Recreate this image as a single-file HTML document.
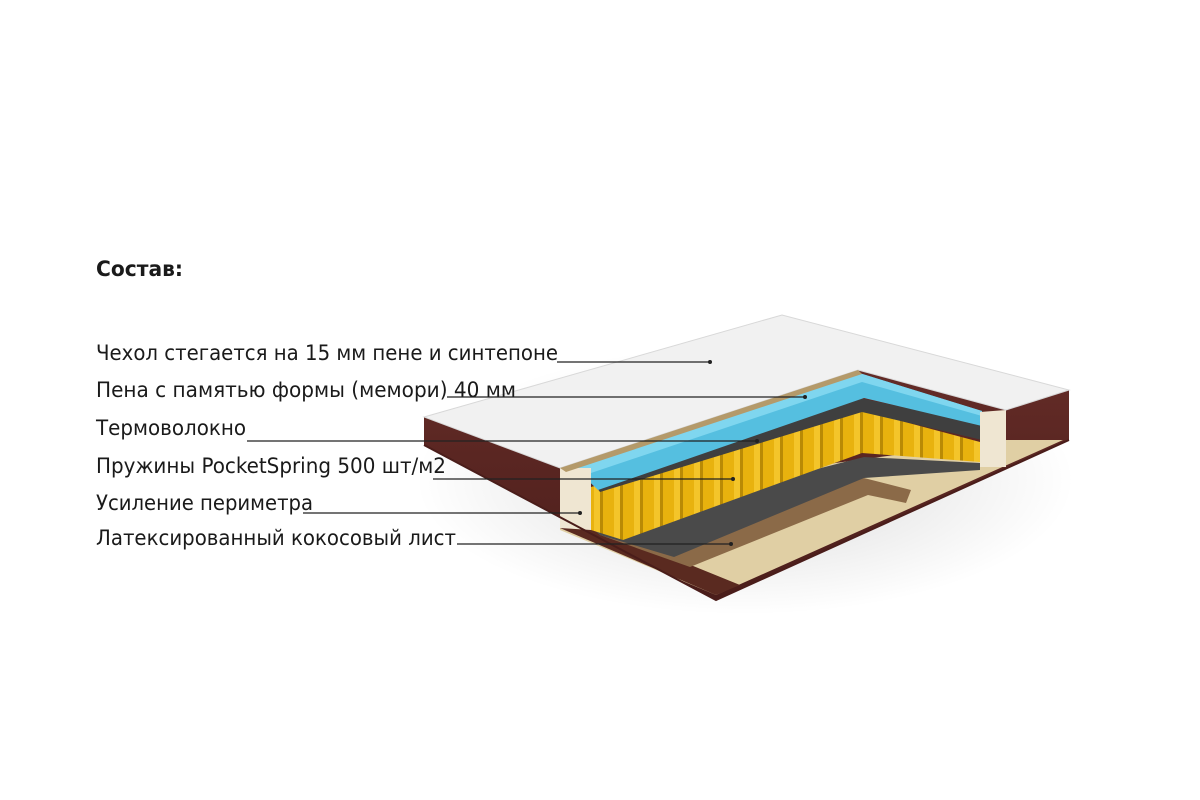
<!DOCTYPE html>
<html><head><meta charset="utf-8"><style>
html,body{margin:0;padding:0;background:#fff;}
svg{display:block}
text{font-family:"DejaVu Sans Condensed","Liberation Sans",sans-serif;fill:#1a1a1a}
</style></head><body>
<svg width="1200" height="800" viewBox="0 0 1200 800">
<defs>
<radialGradient id="sh" cx="50%" cy="50%" r="50%"><stop offset="0" stop-color="#000" stop-opacity="0.15"/><stop offset="1" stop-color="#000" stop-opacity="0"/></radialGradient>
<linearGradient id="br" x1="0" y1="0" x2="0" y2="1"><stop offset="0" stop-color="#6a2f2a"/><stop offset="1" stop-color="#4a1d1a"/></linearGradient>
<pattern id="sp" width="20" height="60" patternUnits="userSpaceOnUse"><rect width="20" height="60" fill="#e8b20e"/><rect x="0" width="3" height="60" fill="#b98a05"/><rect x="14" width="6" height="60" fill="#f4c52a"/></pattern>
</defs>
<ellipse cx="745" cy="480" rx="330" ry="135" fill="url(#sh)"/>
<polygon points="424,417 782,315 1069,390 1069,440 716,600 424,445" fill="url(#br)"/>
<polygon points="560,500 1006,440 1063,440 716,595 560,530" fill="#e0cfa4"/>
<polygon points="560,528 716,595 740,585 580,520" fill="#5a2a20"/>
<polygon points="591,527 864,478 911,490 906,503 868,495 690,567 600,535" fill="#8b6a48"/>
<polygon points="591,527 864,457 980,463 980,470 864,478 674,557 600,535" fill="#4a4a4a"/>
<polygon points="591,487 860,410 980,442 980,462 862,453 623,540 591,530" fill="url(#sp)"/>
<polygon points="591,480 860,398 982,424 982,440 862,412 600,492" fill="#3f3f3f"/>
<polygon points="574,467 856,372 982,411 982,426 864,398 598,490" fill="#55bfe0"/>
<polygon points="574,467 856,372 982,411 982,416 862,382 585,475" fill="#7fd6ef"/>
<polygon points="560,468 591,468 591,530 560,528" fill="#efe6d2"/>
<polygon points="980,412 1006,410 1006,467 980,467" fill="#efe6d2"/>
<polygon points="424,417 782,315 1069,390 1006,410 858,370 560,468" fill="#f1f1f1" stroke="#d8d8d8"/>
<polygon points="560,468 858,370 862,374 566,472" fill="#b49a6a"/>
<polyline points="424,445 716,600 1069,440" fill="none" stroke="#4a1d1a" stroke-width="2"/>
<text x="96" y="276" font-size="21" font-weight="bold" textLength="87" lengthAdjust="spacingAndGlyphs">Состав:</text>
<g font-size="21">
<text x="96" y="360" textLength="462" lengthAdjust="spacingAndGlyphs">Чехол стегается на 15 мм пене и синтепоне</text>
<text x="96" y="397" textLength="420" lengthAdjust="spacingAndGlyphs">Пена с памятью формы (мемори) 40 мм</text>
<text x="96" y="435" textLength="150" lengthAdjust="spacingAndGlyphs">Термоволокно</text>
<text x="96" y="473" textLength="350" lengthAdjust="spacingAndGlyphs">Пружины PocketSpring 500 шт/м2</text>
<text x="96" y="510" textLength="217" lengthAdjust="spacingAndGlyphs">Усиление периметра</text>
<text x="96" y="545" textLength="360" lengthAdjust="spacingAndGlyphs">Латексированный кокосовый лист</text>
</g>
<g stroke="#222" stroke-width="1.2">
<line x1="557" y1="362" x2="710" y2="362"/>
<line x1="447" y1="397" x2="805" y2="397"/>
<line x1="247" y1="441" x2="757" y2="441"/>
<line x1="433" y1="479" x2="733" y2="479"/>
<line x1="303" y1="513" x2="580" y2="513"/>
<line x1="457" y1="544" x2="731" y2="544"/>
</g>
<g fill="#222">
<circle cx="710" cy="362" r="2"/><circle cx="805" cy="397" r="2"/><circle cx="757" cy="441" r="2"/>
<circle cx="733" cy="479" r="2"/><circle cx="580" cy="513" r="2"/><circle cx="731" cy="544" r="2"/>
</g>
</svg>
</body></html>
